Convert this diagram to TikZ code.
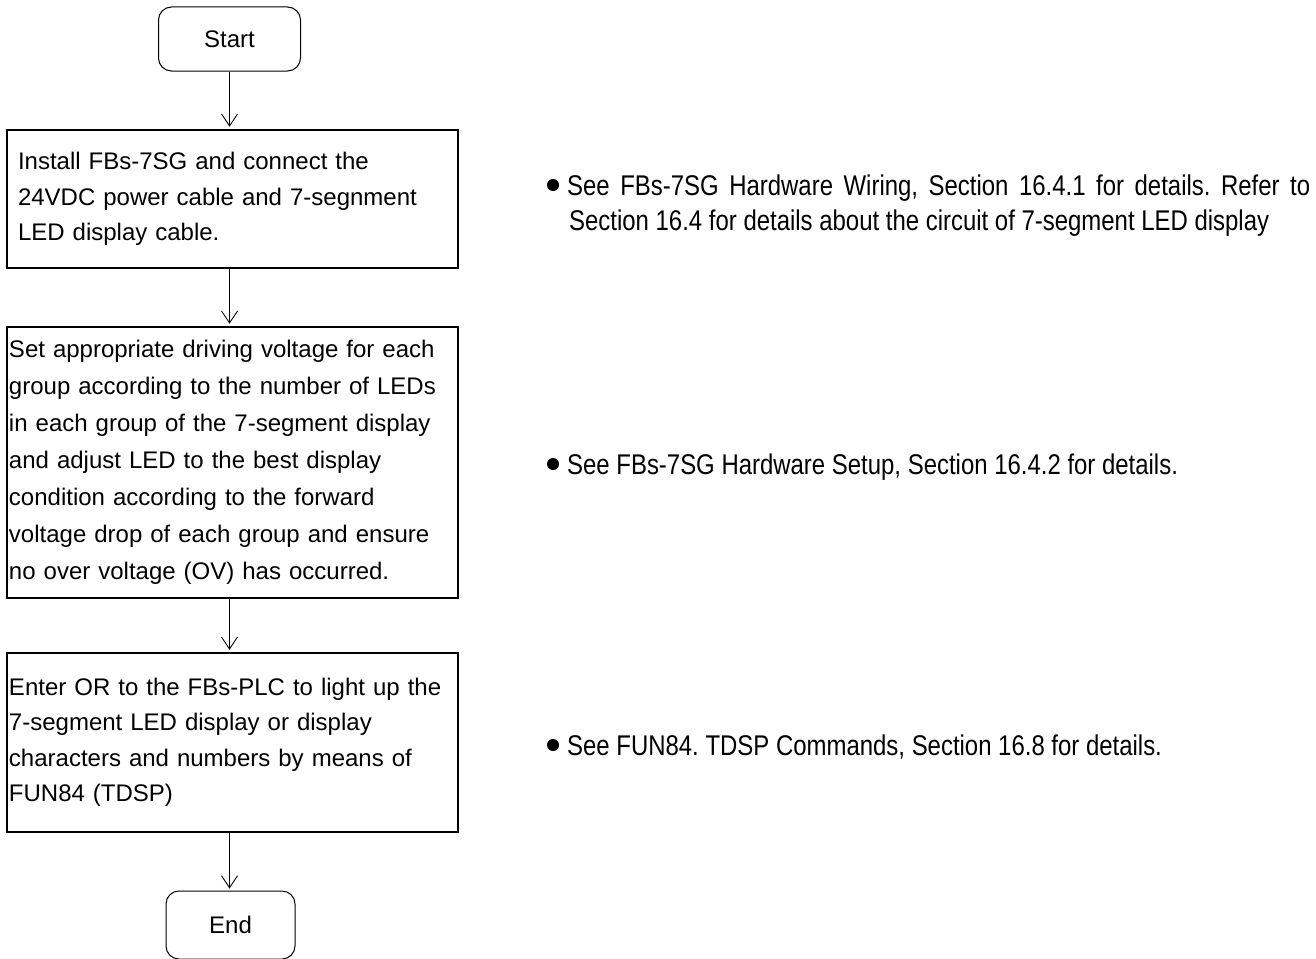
\documentclass[tikz,border=0pt]{standalone}
\usepackage{fontspec}
\setmainfont{Liberation Sans}
\newfontfamily\narrowfont[FakeStretch=0.84]{Liberation Sans}
\usetikzlibrary{arrows.meta}
\frenchspacing
\begin{document}
\begin{tikzpicture}[x=1pt,y=-1pt,
  term/.style={draw, line width=1pt, rounded corners=13pt, inner sep=0pt,
    font=\fontsize{24}{28}\selectfont},
  procbox/.style={draw, line width=2.5pt, inner ysep=0pt, align=left,
    font=\fontsize{24}{35.5}\selectfont},
  flow/.style={line width=0.9pt, shorten >=2pt, -{Straight Barb[length=12pt,width=16pt]}},
  note/.style={anchor=base west, inner sep=0pt, font=\narrowfont\fontsize{28.5}{34}\selectfont},
  bulletdot/.style={circle, fill, inner sep=0pt, minimum size=12pt}
]
\useasboundingbox (0,0) rectangle (1316,958);

\node[term, minimum width=142pt, minimum height=64pt] (start) at (229.5,39) {Start};

\node[procbox, minimum width=451pt, minimum height=138pt, inner xsep=11pt, text width=429pt]
  (box1) at (232.5,199)
  {\mbox{Install FBs-7SG and connect the}\\
   \mbox{24VDC power cable and 7-segnment}\\
   \mbox{LED display cable.}};

\node[procbox, minimum width=451pt, minimum height=271pt, inner xsep=2pt, text width=447pt,
  font=\fontsize{24}{37}\selectfont]
  (box2) at (232.5,462.5)
  {\mbox{Set appropriate driving voltage for each}\\
   \mbox{group according to the number of LEDs}\\
   \mbox{in each group of the 7-segment display}\\
   \mbox{and adjust LED to the best display}\\
   \mbox{condition according to the forward}\\
   \mbox{voltage drop of each group and ensure}\\
   \mbox{no over voltage (OV) has occurred.}};

\node[procbox, minimum width=451pt, minimum height=179pt, inner xsep=2pt, text width=447pt]
  (box3) at (232.5,742.5)
  {\mbox{Enter OR to the FBs-PLC to light up the}\\
   \mbox{7-segment LED display or display}\\
   \mbox{characters and numbers by means of}\\
   \mbox{FUN84 (TDSP)}};

\node[term, minimum width=129pt, minimum height=68pt] (end) at (230.5,925) {End};

\draw[flow] (start.south) -- (start.south |- box1.north);
\draw[flow] (start.south |- box1.south) -- (start.south |- box2.north);
\draw[flow] (start.south |- box2.south) -- (start.south |- box3.north);
\draw[flow] (start.south |- box3.south) -- (start.south |- end.north);

\node[bulletdot] (b1) at (553,185) {};
\node[note] (n1a) at (567,195) {\makebox[743pt][s]{See FBs-7SG Hardware Wiring, Section 16.4.1 for details. Refer to}};
\node[note] (n1b) at (569,230) {Section 16.4 for details about the circuit of 7-segment LED display};

\node[bulletdot] (b2) at (553,464) {};
\node[note] (n2) at (567,474) {See FBs-7SG Hardware Setup, Section 16.4.2 for details.};

\node[bulletdot] (b3) at (553,745) {};
\node[note] (n3) at (567,755) {See FUN84. TDSP Commands, Section 16.8 for details.};
\end{tikzpicture}
\end{document}
